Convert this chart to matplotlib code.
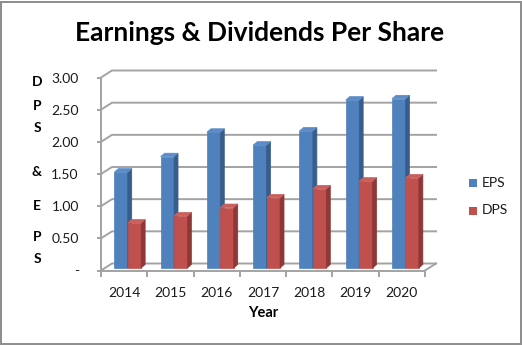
import matplotlib
matplotlib.use("Agg")
import matplotlib.pyplot as plt
from matplotlib.patches import Polygon, Rectangle
from matplotlib.lines import Line2D
from matplotlib.transforms import IdentityTransform

years = ["2014", "2015", "2016", "2017", "2018", "2019", "2020"]
eps = [1.49, 1.73, 2.11, 1.91, 2.13, 2.61, 2.63]
dps = [0.70, 0.81, 0.94, 1.09, 1.23, 1.35, 1.40]
yticks = [0, 0.5, 1.0, 1.5, 2.0, 2.5, 3.0]
ytick_labels = ["-", "0.50", "1.00", "1.50", "2.00", "2.50", "3.00"]

plt.rcParams["font.family"] = ["Lato", "DejaVu Sans"]

W, H = 522, 345
fig = plt.figure(figsize=(W / 100, H / 100), dpi=100)

# front plane of the 3-D box, in pixels from the top-left corner
left, right, top, bottom = 101, 425, 77.5, 270.5
ax = fig.add_axes([left / W, (H - bottom) / H, (right - left) / W, (bottom - top) / H])
ax.set_xlim(-0.5, len(years) - 0.5)
ax.set_ylim(0, 3)
for s in ["top", "right"]:
    ax.spines[s].set_visible(False)
grid_c = "#a3a3a3"
for s in ["left", "bottom"]:
    ax.spines[s].set_color(grid_c)
    ax.spines[s].set_linewidth(1.4)

ax.set_yticks(yticks, ytick_labels)
ax.tick_params(axis="y", length=3, width=1.4, color=grid_c, pad=13,
               labelsize=10, labelcolor="#1a1a1a")
ax.set_xticks([i - 0.5 for i in range(len(years) + 1)], [""] * (len(years) + 1))
ax.set_xticks(range(len(years)), years, minor=True)
ax.tick_params(axis="x", which="major", length=4, width=1.4, color=grid_c)
ax.tick_params(axis="x", which="minor", length=0, pad=12,
               labelsize=10, labelcolor="#1a1a1a")

depth = (11, 7)        # offset from front plane to back wall, px
bar_shift = (3.6, 2.5)  # bar front face offset, px
bar_depth = (4, 3.5)    # bar thickness, px
bar_w = 0.29
px = IdentityTransform()


def to_px(x, y, off=(0, 0)):
    X, Y = ax.transData.transform((x, y))
    return X + off[0], Y + off[1]


# back-wall gridlines with the slanted left-wall segments
x0, x1 = -0.5, len(years) - 0.5
for v in yticks:
    a = to_px(x0, v)
    b = to_px(x0, v, depth)
    c = to_px(x1, v, depth)
    fig.add_artist(Line2D([a[0], b[0], c[0]], [a[1], b[1], c[1]],
                          transform=px, color=grid_c, lw=1.4, zorder=1))
# right edge of the floor
a = to_px(x1, 0)
b = to_px(x1, 0, depth)
fig.add_artist(Line2D([a[0], b[0]], [a[1], b[1]], transform=px,
                      color=grid_c, lw=1.4, zorder=1))


def bar3d(xl, val, front, side, topc):
    fx0, fy0 = to_px(xl, 0, bar_shift)
    fx1, fy1 = to_px(xl + bar_w, val, bar_shift)
    dx, dy = bar_depth
    faces = [
        ([(fx0, fy0), (fx1, fy0), (fx1, fy1), (fx0, fy1)], front),
        ([(fx1, fy0), (fx1 + dx, fy0 + dy), (fx1 + dx, fy1 + dy), (fx1, fy1)], side),
        ([(fx0, fy1), (fx1, fy1), (fx1 + dx, fy1 + dy), (fx0 + dx, fy1 + dy)], topc),
    ]
    for pts, col in faces:
        fig.add_artist(Polygon(pts, closed=True, transform=px, facecolor=col,
                               edgecolor=col, lw=0.5, zorder=3))


for i in range(len(years)):
    bar3d(i - bar_w, eps[i], "#4f81bd", "#385d8a", "#5b8cc8")
    bar3d(i, dps[i], "#c0504d", "#8c3836", "#c9605d")

# title and axis labels
fig.text(260 / W, 1 - 33 / H, "Earnings & Dividends Per Share", ha="center",
         va="center", fontsize=19, fontweight="bold", color="black")
fig.text(263 / W, 1 - 313 / H, "Year", ha="center", va="center",
         fontsize=10.5, fontweight="bold", color="black")
ylab_chars = ["D", "P", "S", "&", "E", "P", "S"]
ylab_pos = [82, 106, 128, 172, 206, 237, 259]
for ch, yy in zip(ylab_chars, ylab_pos):
    fig.text(37 / W, 1 - yy / H, ch, ha="center", va="center",
             fontsize=10, fontweight="bold", color="black")

# legend
for name, col, yy in [("EPS", "#4f81bd", 183), ("DPS", "#c0504d", 210.5)]:
    fig.add_artist(Rectangle((469 / W, 1 - (yy + 4) / H), 8 / W, 8 / H,
                             transform=fig.transFigure, facecolor=col,
                             edgecolor="none"))
    fig.text(482 / W, 1 - yy / H, name, ha="left", va="center",
             fontsize=10, color="#1a1a1a")

# chart border
fig.add_artist(Rectangle((1 / W, 1.5 / H), 519.5 / W, 342 / H,
                         transform=fig.transFigure, facecolor="none",
                         edgecolor="#8c8c8c", lw=1.4))

fig.savefig("out.png", dpi=100)
